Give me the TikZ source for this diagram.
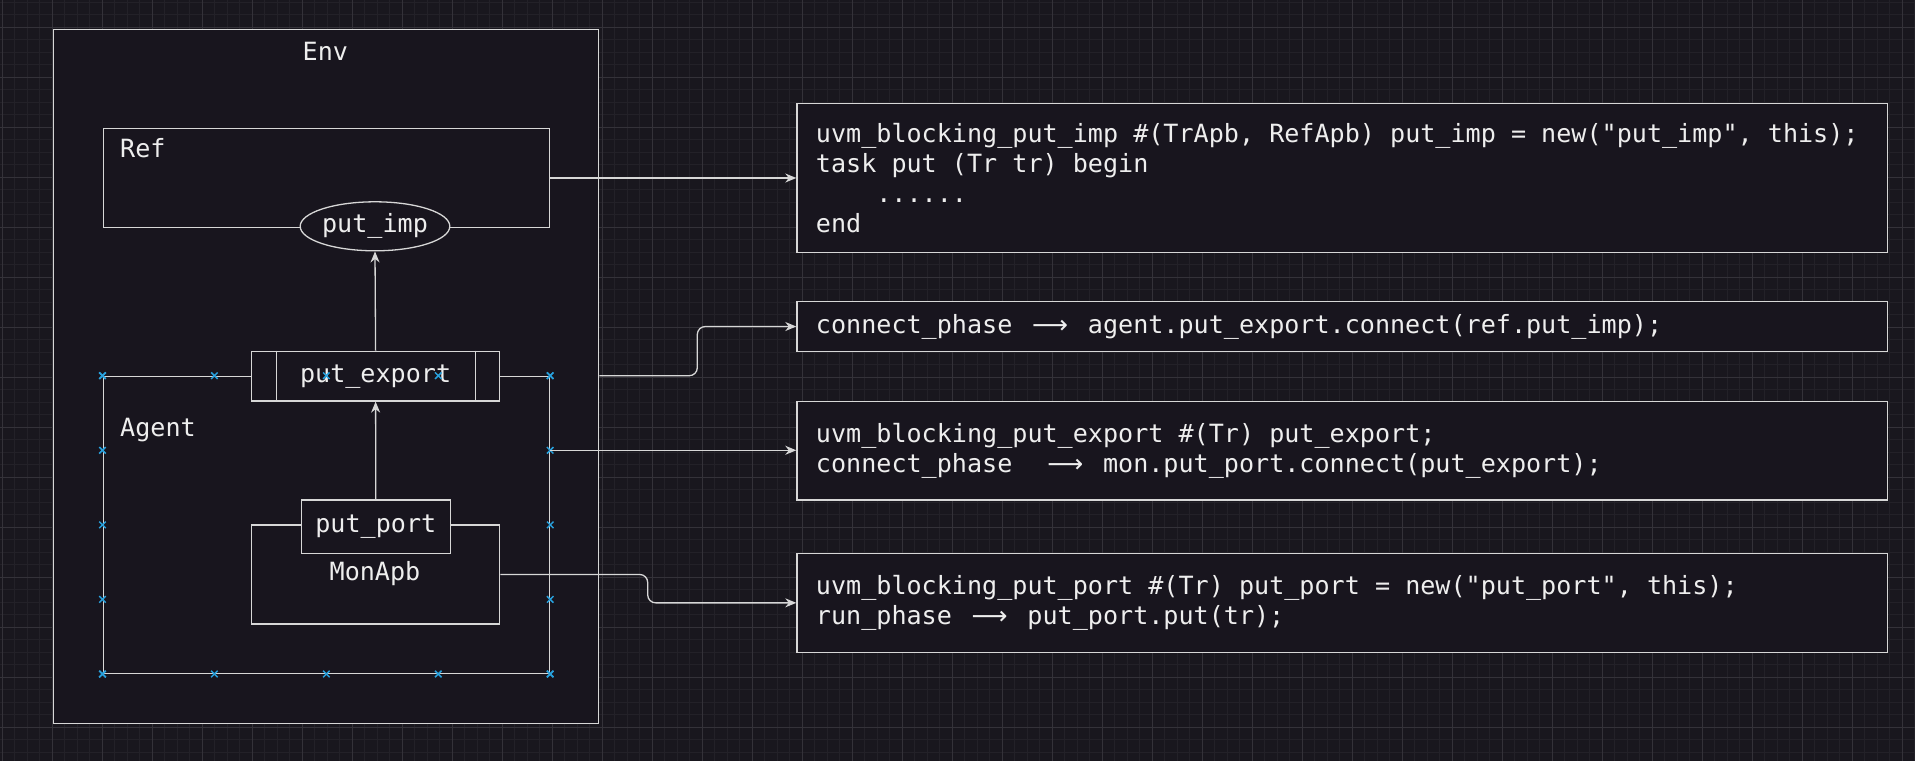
\documentclass[tikz,border=0pt]{standalone}
\usepackage{fontspec}
\setmonofont{DejaVu Sans Mono}
\newfontfamily\arrowfont{DejaVu Sans}
\usetikzlibrary{arrows.meta,calc,shapes.geometric,shapes.misc}
\definecolor{bgc}{RGB}{25,23,30}
\definecolor{gridminor}{RGB}{35,33,40}
\definecolor{gridmajor}{RGB}{52,50,57}
\definecolor{fillc}{RGB}{24,21,30}
\definecolor{linec}{RGB}{215,215,215}
\definecolor{textc}{RGB}{238,238,238}
\definecolor{markc}{RGB}{40,160,220}
\newcommand{\mono}{\ttfamily\fontsize{25.1}{30}\selectfont}
\newcommand{\LA}{\makebox[45.3pt]{\arrowfont ⟶}}
\newcommand{\fixsp}{\spaceskip=0pt\relax\xspaceskip=0pt\relax}
\tikzset{
  shapebox/.style={draw=linec, line width=1.3pt, fill=fillc, inner sep=0pt, anchor=north west},
  lbl/.style={text=textc, font=\mono, inner sep=0pt},
  conn/.style={draw=linec, line width=1.3pt, -{Stealth[length=11pt,width=9pt,inset=3.5pt]}},
  codebox/.style={draw=linec, line width=1.3pt, fill=fillc, anchor=north west, text=textc, font=\mono, align=left, text width=1052.7pt, inner xsep=19pt, inner ysep=0pt},
  mk/.style={draw=markc, cross out, minimum size=5pt, inner sep=0pt, line width=1.5pt},
  gmin/.style={draw=gridminor, line width=1pt},
  gmaj/.style={draw=gridmajor, line width=1pt}
}
\begin{document}
\begin{tikzpicture}[x=1pt,y=-1pt]
\fill[bgc] (0,0) rectangle (1915,761);
\useasboundingbox (0,0) rectangle (1915,761);
% grid
\foreach \i in {0,...,153} {\draw[gmin] ({2.3+12.5*\i},0) -- ({2.3+12.5*\i},761);}
\foreach \i in {0,...,61} {\draw[gmin] (0,{2.3+12.5*\i}) -- (1915,{2.3+12.5*\i});}
\foreach \i in {0,...,38} {\draw[gmaj] ({2.3+50*\i},0) -- ({2.3+50*\i},761);}
\foreach \i in {0,...,14} {\draw[gmaj] (0,{27.3+50*\i}) -- (1915,{27.3+50*\i});}

% Env
\node[shapebox, minimum width=545.3pt, minimum height=693.7pt] (env) at (52.7,29) {};
\node[lbl, anchor=base] (envl) at (325.4,60) {Env};

% Ref
\node[shapebox, minimum width=446.4pt, minimum height=99.3pt] (ref) at (102.5,127.7) {};
\node[lbl, anchor=base west] (refl) at (120,157.7) {Ref};
\node[draw=linec, line width=1.3pt, fill=fillc, ellipse, minimum width=149pt, minimum height=49pt, inner sep=0pt, text=textc, font=\mono] (pimp) at (375,226.3) {put\_imp};

% Agent
\node[shapebox, minimum width=446.4pt, minimum height=297pt] (ag) at (102.5,375.7) {};
\node[lbl, anchor=base west] (agl) at (120,436) {Agent};

% MonApb
\node[shapebox, minimum width=248.3pt, minimum height=99pt] (mon) at (250.8,524.3) {};
\node[lbl, anchor=base] (monl) at (375,580.7) {MonApb};
\node[shapebox, minimum width=149.1pt, minimum height=53.7pt, text=textc, font=\mono] (ppt) at (300.6,499.3) {put\_port};

% put_export (process shape)
\node[shapebox, minimum width=248.3pt, minimum height=49.6pt, text=textc, font=\mono] (pe) at (250.8,350.7) {put\_export};
\draw[draw=linec, line width=1.3pt] ($(pe.north west)+(25.5,0)$) -- ($(pe.south west)+(25.5,0)$)
  ($(pe.north east)+(-24.7,0)$) -- ($(pe.south east)+(-24.7,0)$);

% markers on Agent
\foreach \t in {0,0.25,0.5,0.75,1} {
  \node[mk] at ($(ag.north west)!\t!(ag.north east)$) {};
  \node[mk] at ($(ag.south west)!\t!(ag.south east)$) {};
  \node[mk] at ($(ag.north west)!\t!(ag.south west)$) {};
  \node[mk] at ($(ag.north east)!\t!(ag.south east)$) {};
}

% code boxes
\node[codebox, minimum height=149pt] (c1) at (796.3,102.7) {\fixsp uvm\_blocking\_put\_imp \#(TrApb, RefApb) put\_imp = new("put\_imp", this);\\task put (Tr tr) begin\\\hspace*{60.4pt}......\\end};
\node[codebox, minimum height=49.7pt] (c2) at (796.3,301) {\fixsp connect\_phase \LA{} agent.put\_export.connect(ref.put\_imp);};
\node[codebox, minimum height=98.6pt] (c3) at (796.3,400.7) {\fixsp uvm\_blocking\_put\_export \#(Tr) put\_export;\\connect\_phase\ \ \LA{} mon.put\_port.connect(put\_export);};
\node[codebox, minimum height=99pt] (c4) at (796.3,552.7) {\fixsp uvm\_blocking\_put\_port \#(Tr) put\_port = new("put\_port", this);\\run\_phase \LA{} put\_port.put(tr);};

% connectors
\coordinate (k1) at (697.3,0);
\coordinate (k2) at (647.7,0);
\coordinate (a3) at ($(ag.north east)!0.25!(ag.south east)$);
\draw[conn] (ppt.north) -- (pe.south);
\draw[conn] (pe.north) -- (pimp.south);
\draw[conn] (ref.east) -- (ref.east -| c1.west);
\draw[conn, rounded corners=8pt] (env.east |- ag.north) -- (k1 |- ag.north) -- (k1 |- c2.west) -- (c2.west);
\draw[conn] (a3) -- (a3 -| c3.west);
\draw[conn, rounded corners=8pt] (mon.east) -- (k2 |- mon.east) -- (k2 |- c4.west) -- (c4.west);
\end{tikzpicture}
\end{document}
